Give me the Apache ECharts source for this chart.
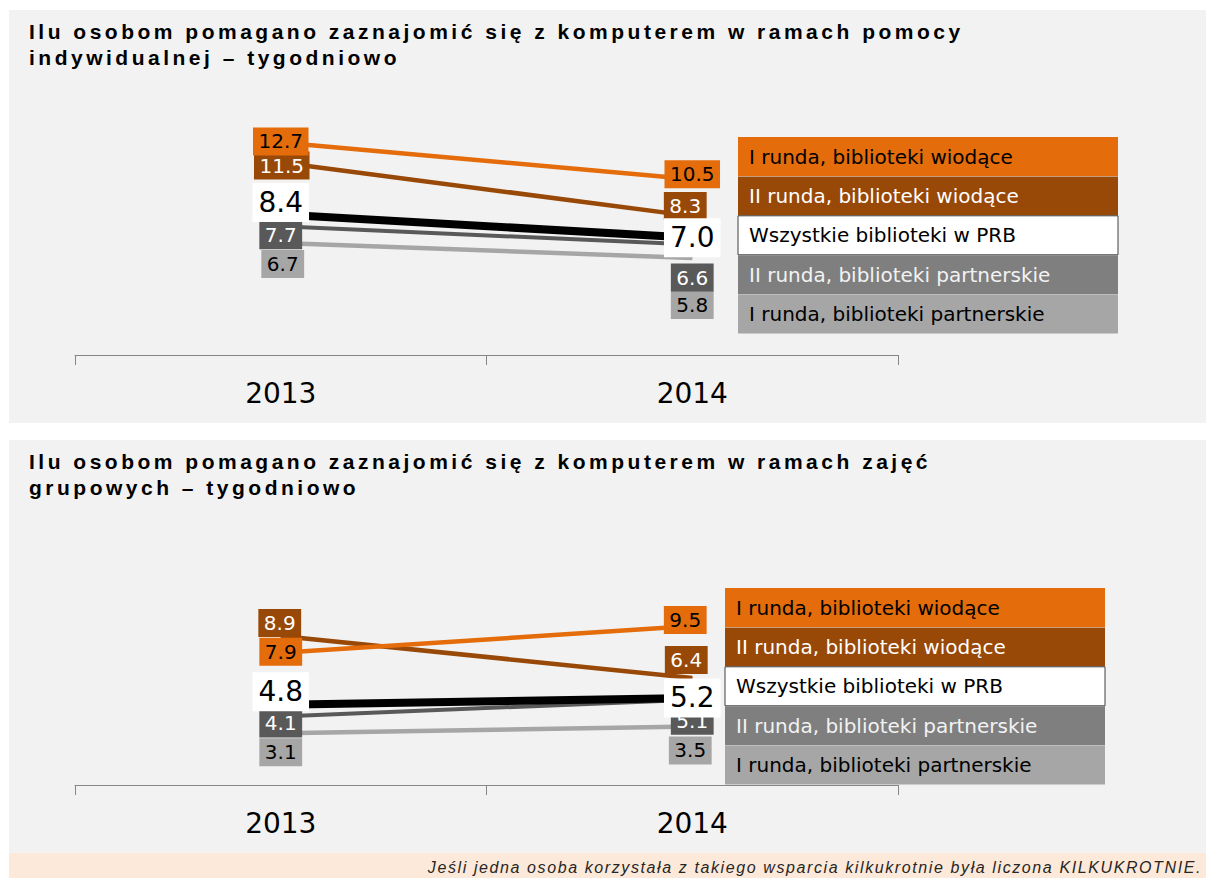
<!DOCTYPE html>
<html>
<head>
<meta charset="utf-8">
<script src="https://cdn.jsdelivr.net/npm/echarts@6/dist/echarts.min.js"></script>
<style>
  html, body { margin: 0; padding: 0; background: #fff; }
  #chart { position: absolute; left: 0; top: 0; width: 1206px; height: 878px; }
  /* titles in the original are set with wide tracking */
  #chart text[style*="bold"] { letter-spacing: 3.5px; }
  #note {
    position: absolute; left: 9px; top: 853px; width: 1197px; height: 25px;
    background: #fde9d9; box-sizing: border-box; padding: 2px 4px 0 0;
    font: italic 16px/25px "Liberation Sans", Arial, sans-serif;
    letter-spacing: 1.6px; color: #262626; text-align: right; white-space: nowrap; overflow: hidden;
  }
</style>
</head>
<body>
<div id="chart"></div>
<div id="note">Jeśli jedna osoba korzystała z takiego wsparcia kilkukrotnie była liczona KILKUKROTNIE.</div>
<script>
const years = ['2013', '2014']
const seriesNames = [
  'I runda, biblioteki wiodące',
  'II runda, biblioteki wiodące',
  'Wszystkie biblioteki w PRB',
  'II runda, biblioteki partnerskie',
  'I runda, biblioteki partnerskie'
]
const title1 = 'Ilu osobom pomagano zaznajomić się z komputerem w ramach pomocy\nindywidualnej – tygodniowo'
const title2 = 'Ilu osobom pomagano zaznajomić się z komputerem w ramach zajęć\ngrupowych – tygodniowo'

// pomoc indywidualna
const indR1Wiod = [12.7, 10.5]
const indR2Wiod = [11.5, 8.3]
const indAll = [8.4, 7.0]
const indR2Partn = [7.7, 6.6]
const indR1Partn = [6.7, 5.8]

// zajęcia grupowe
const grpR1Wiod = [7.9, 9.5]
const grpR2Wiod = [8.9, 6.4]
const grpAll = [4.8, 5.2]
const grpR2Partn = [4.1, 5.1]
const grpR1Partn = [3.1, 3.5]

// label nudges (px) so the boxes don't overlap, like in the original
const indOffsets = [
  [[0, -1], [0, -5]],
  [[1, 3], [-7, -10]],
  [[0, -12], [0, 0]],
  [[0, 9], [0, 33]],
  [[2, 21], [0, 47]]
]
const grpOffsets = [
  [[0, -1], [-7, -6]],
  [[-1, -13], [-6, -18]],
  [[0, -13], [0, 0]],
  [[0, 7], [0, 21]],
  [[0, 19], [-2, 24]]
]

const lineColors = ['#e46c0a', '#984807', '#000000', '#595959', '#a6a6a6']
const labelBg = ['#e46c0a', '#984807', '#ffffff', '#595959', '#a6a6a6']
const labelColor = ['#000000', '#ffffff', '#000000', '#ffffff', '#000000']
const legendBg = ['#e46c0a', '#984807', '#ffffff', '#7f7f7f', '#a6a6a6']
const legendColor = ['#000000', '#ffffff', '#000000', '#f2f2f2', '#000000']
const lineWidths = [4.5, 4.5, 8, 4, 4.5]
const drawOrder = [4, 3, 1, 0, 2]

const FONT = '"DejaVu Sans", Verdana, sans-serif'

const makeSeries = (values, offsets, idx) => drawOrder.map(i => ({
  name: seriesNames[i],
  type: 'line',
  xAxisIndex: idx,
  yAxisIndex: idx,
  data: values[i].map((v, j) => ({ value: v, label: { offset: offsets[i][j] } })),
  symbol: 'circle',
  symbolSize: 1,
  itemStyle: { color: lineColors[i] },
  lineStyle: { color: lineColors[i], width: lineWidths[i] },
  label: {
    show: true,
    position: 'inside',
    formatter: p => p.value.toFixed(1),
    fontFamily: FONT,
    fontSize: i === 2 ? 28 : 20,
    color: labelColor[i],
    backgroundColor: labelBg[i],
    padding: i === 2 ? [5.5, 6] : [4, 5.5]
  },
  emphasis: { disabled: true },
  silent: true
}))

const makeLegends = (left, top) => seriesNames.map((name, i) => ({
  data: [name],
  left: left,
  top: top + i * 39.4,
  selectedMode: false,
  itemWidth: 0,
  itemHeight: 0,
  icon: 'rect',
  padding: [9, 10, 9, 6],
  backgroundColor: legendBg[i],
  borderColor: i === 2 ? '#404040' : 'transparent',
  borderWidth: i === 2 ? 1 : 0,
  borderRadius: 0,
  textStyle: {
    color: legendColor[i],
    fontFamily: FONT,
    fontSize: 20,
    lineHeight: 21,
    width: 359,
    overflow: 'none'
  }
}))

const makeXAxis = idx => ({
  type: 'category',
  gridIndex: idx,
  data: years,
  boundaryGap: true,
  axisLine: { lineStyle: { color: '#868686', width: 1 } },
  axisTick: { show: true, length: 10, lineStyle: { color: '#868686' } },
  axisLabel: { fontFamily: FONT, fontSize: 28, color: '#000', margin: 24 },
  splitLine: { show: false }
})

const makeYAxis = idx => ({
  type: 'value',
  gridIndex: idx,
  min: 0,
  max: 15,
  show: false,
  splitLine: { show: false }
})

const titleStyle = {
  fontFamily: '"Liberation Sans", Arial, sans-serif',
  fontWeight: 'bold',
  fontSize: 21,
  lineHeight: 26,
  color: '#000'
}

const chart = echarts.init(document.getElementById('chart'), null, { renderer: 'svg' })

const option = {
  animation: false,
  backgroundColor: '#ffffff',
  graphic: [
    { type: 'rect', z: -10, silent: true, shape: { x: 9, y: 10, width: 1197, height: 413 }, style: { fill: '#f2f2f2' } },
    { type: 'rect', z: -10, silent: true, shape: { x: 9, y: 440, width: 1197, height: 413 }, style: { fill: '#f2f2f2' } }
  ],
  title: [
    { text: title1, left: 29, top: 18, padding: 0, textStyle: titleStyle },
    { text: title2, left: 29, top: 448, padding: 0, textStyle: titleStyle }
  ],
  legend: [...makeLegends(738, 137), ...makeLegends(725, 588)],
  grid: [
    { left: 75, width: 823, top: 104, height: 251 },
    { left: 75, width: 823, top: 534, height: 251 }
  ],
  xAxis: [makeXAxis(0), makeXAxis(1)],
  yAxis: [makeYAxis(0), makeYAxis(1)],
  series: [
    ...makeSeries([indR1Wiod, indR2Wiod, indAll, indR2Partn, indR1Partn], indOffsets, 0),
    ...makeSeries([grpR1Wiod, grpR2Wiod, grpAll, grpR2Partn, grpR1Partn], grpOffsets, 1)
  ]
}

chart.setOption(option)
</script>
</body>
</html>
